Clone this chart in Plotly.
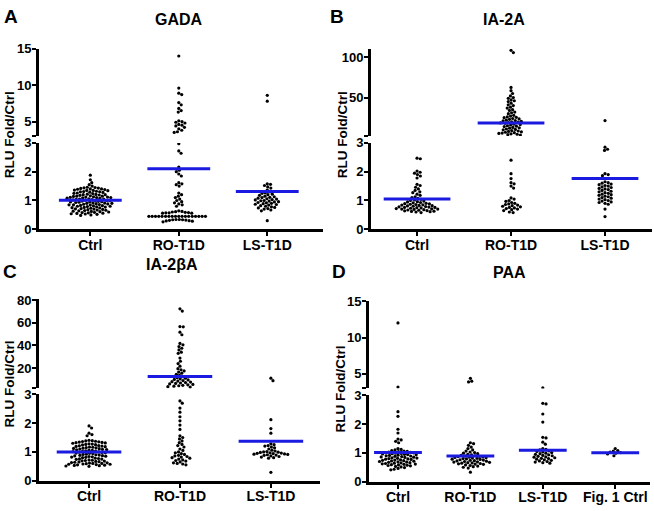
import math
import plotly.graph_objects as go

W, H = 654, 511

# ---------------- data ----------------
cats_abc = ["Ctrl", "RO-T1D", "LS-T1D"]
cats_d = ["Ctrl", "RO-T1D", "LS-T1D", "Fig. 1 Ctrl"]
titles = ["GADA", "IA-2A", "IA-2βA", "PAA"]
letters = ["A", "B", "C", "D"]

gada_ctrl = [1.88, 1.72, 1.62, 1.55, 1.50, 1.46, 1.45, 1.44, 1.43, 1.42, 1.40, 1.40, 1.39, 1.38, 1.36, 1.35,
             1.35, 1.34, 1.32, 1.31, 1.30, 1.30, 1.29, 1.28, 1.26, 1.25, 1.24, 1.22, 1.21, 1.20, 1.20, 1.19,
             1.18, 1.16, 1.15, 1.15, 1.14, 1.13, 1.12, 1.12, 1.11, 1.10, 1.10, 1.09, 1.08, 1.07, 1.06, 1.05,
             1.05, 1.04, 1.03, 1.02, 1.01, 1.00, 1.00, 0.99, 0.98, 0.97, 0.96, 0.95, 0.95, 0.94, 0.93, 0.92,
             0.91, 0.90, 0.90, 0.89, 0.88, 0.87, 0.86, 0.85, 0.85, 0.84, 0.83, 0.82, 0.81, 0.80, 0.80, 0.79,
             0.78, 0.77, 0.76, 0.75, 0.74, 0.73, 0.72, 0.71, 0.70, 0.69, 0.68, 0.67, 0.66, 0.65, 0.64, 0.63,
             0.62, 0.61, 0.60, 0.59, 0.58, 0.57, 0.56, 0.55, 0.54, 0.53, 0.52, 0.50, 0.48]
gada_ro = [14.0, 9.6, 8.9, 8.7, 7.6, 7.3, 6.8, 6.5, 6.3, 5.1, 5.0, 4.9, 4.8, 4.6, 4.5, 4.4, 4.2, 4.0, 3.8, 3.6,
           3.5, 2.97, 2.72, 2.64, 2.16, 2.05, 2.00, 1.92, 1.85, 1.62, 1.58, 1.55, 1.50, 1.26, 1.20, 1.15, 1.10,
           1.05, 1.00, 0.96, 0.92, 0.88, 0.85, 0.80, 0.64, 0.62, 0.61, 0.60, 0.59, 0.58, 0.57, 0.57, 0.56,
           0.56, 0.45, 0.45, 0.45, 0.45, 0.45, 0.45, 0.45, 0.45, 0.45, 0.45, 0.45, 0.45, 0.45, 0.45,
           0.45, 0.45, 0.45, 0.45, 0.34, 0.34, 0.33, 0.33, 0.32, 0.31, 0.30, 0.29, 0.28, 0.26]
gada_ls = [8.6, 7.8, 1.58, 1.56, 1.52, 1.47, 1.43, 1.36, 1.30, 1.27, 1.25, 1.22, 1.20, 1.18, 1.15, 1.13, 1.11,
           1.10, 1.08, 1.06, 1.05, 1.03, 1.02, 1.00, 0.99, 0.98, 0.96, 0.95, 0.93, 0.92, 0.90, 0.89, 0.87,
           0.86, 0.84, 0.82, 0.80, 0.78, 0.76, 0.74, 0.72, 0.70, 0.67, 0.64, 0.30]
gada_means = [1.01, 2.10, 1.31]

ia2_ctrl = [2.47, 2.45, 2.02, 1.98, 1.95, 1.90, 1.85, 1.78, 1.56, 1.52, 1.46, 1.40, 1.35, 1.30, 1.27, 1.22,
            1.18, 1.13, 1.10, 1.07, 1.04, 1.02, 1.00, 0.98, 0.96, 0.95, 0.93, 0.92, 0.90, 0.89, 0.88, 0.87,
            0.86, 0.85, 0.84, 0.83, 0.82, 0.81, 0.80, 0.79, 0.78, 0.77, 0.76, 0.76, 0.75, 0.74, 0.73, 0.72,
            0.71, 0.70, 0.70, 0.69, 0.68, 0.67, 0.66, 0.65, 0.64, 0.63, 0.62, 0.61, 0.60, 0.58]
ia2_ro = [108.5, 105.7, 62.6, 58.5, 55, 52, 50, 49, 47, 46, 45, 43, 41, 40, 38, 37, 35, 34, 32, 31, 30, 28, 27,
          26, 25.5, 25, 24, 23.5, 23, 22, 21.5, 21, 20.5, 20, 19.5, 19, 18.5, 18, 17, 16.5, 16, 15, 14.5, 14,
          13, 12.5, 12, 11, 10.5, 10, 9, 8.5, 8, 7.5, 7, 6.5, 6, 5.5, 5, 4.5, 4, 3.5,
          2.40, 1.93, 1.76, 1.62, 1.58, 1.50, 1.43, 1.09, 1.05, 1.00, 0.97, 0.93, 0.90, 0.88, 0.86, 0.84,
          0.82, 0.80, 0.78, 0.76, 0.74, 0.72, 0.70, 0.68, 0.65, 0.60, 0.58]
ia2_ls = [21.5, 2.85, 2.78, 2.74, 1.93, 1.90, 1.86, 1.65, 1.62, 1.60, 1.57, 1.55, 1.52, 1.50, 1.47, 1.45, 1.42,
          1.40, 1.38, 1.35, 1.32, 1.30, 1.27, 1.25, 1.22, 1.20, 1.18, 1.15, 1.13, 1.10, 1.08, 1.05, 1.03,
          1.00, 0.98, 0.95, 0.93, 0.90, 0.87, 0.70, 0.44]
ia2_means = [1.05, 18.3, 1.76]

ia2b_ctrl = [1.90, 1.83, 1.65, 1.60, 1.56, 1.40, 1.39, 1.38, 1.37, 1.36, 1.35, 1.34, 1.33, 1.32, 1.31, 1.30,
             1.28, 1.27, 1.26, 1.25, 1.24, 1.22, 1.21, 1.20, 1.19, 1.18, 1.17, 1.16, 1.15, 1.14, 1.13, 1.12,
             1.11, 1.10, 1.09, 1.08, 1.07, 1.06, 1.05, 1.04, 1.03, 1.02, 1.01, 1.00, 0.99, 0.98, 0.97, 0.96,
             0.95, 0.94, 0.92, 0.91, 0.90, 0.89, 0.88, 0.87, 0.86, 0.85, 0.84, 0.83, 0.82, 0.81, 0.80, 0.78,
             0.77, 0.76, 0.75, 0.74, 0.72, 0.71, 0.70, 0.69, 0.68, 0.67, 0.66, 0.65, 0.64, 0.63, 0.62, 0.61,
             0.60, 0.60, 0.59, 0.58, 0.57, 0.57, 0.56, 0.55, 0.54, 0.53, 0.52, 0.51, 0.50]
ia2b_ro = [72.3, 70.3, 56.6, 56.4, 51.7, 49.4, 41.7, 40.5, 39, 37.5, 36, 34, 33, 28.8, 26, 24, 21.7, 19.5, 18.5,
           17.5, 16.5, 15.5, 14.5, 13.5, 12.5, 11.5, 11, 10.5, 10, 9.5, 9, 8.5, 8, 7.6, 7.2, 6.8, 6.4, 6, 5.6,
           5.2, 4.8, 4.4, 4, 3.6, 3.2,
           2.77, 2.69, 2.52, 2.38, 2.22, 2.08, 1.93, 1.78, 1.56, 1.50, 1.45, 1.38, 1.32, 1.26, 1.22, 1.17,
           1.10, 1.05, 1.00, 0.97, 0.94, 0.91, 0.88, 0.86, 0.84, 0.82, 0.80, 0.78, 0.75, 0.72, 0.70, 0.68,
           0.65, 0.62, 0.60, 0.58, 0.55]
ia2b_ls = [11.1, 8.9, 2.12, 1.81, 1.65, 1.28, 1.25, 1.22, 1.20, 1.17, 1.14, 1.10, 1.06, 1.03, 1.01, 1.00, 0.99,
           0.98, 0.97, 0.96, 0.95, 0.94, 0.93, 0.92, 0.91, 0.90, 0.89, 0.88, 0.86, 0.84, 0.82, 0.80, 0.78, 0.29]
ia2b_means = [1.00, 12.5, 1.37]

paa_ctrl = [12.0, 3.2, 2.43, 2.27, 1.82, 1.69, 1.48, 1.45, 1.40, 1.35, 1.15, 1.12, 1.10, 1.08, 1.06, 1.05, 1.04,
            1.03, 1.02, 1.01, 1.00, 0.99, 0.98, 0.97, 0.96, 0.95, 0.94, 0.93, 0.92, 0.91, 0.90, 0.89, 0.88,
            0.87, 0.86, 0.85, 0.84, 0.83, 0.82, 0.81, 0.80, 0.79, 0.78, 0.77, 0.76, 0.75, 0.74, 0.73, 0.72,
            0.71, 0.70, 0.69, 0.68, 0.67, 0.66, 0.65, 0.64, 0.63, 0.62, 0.61, 0.60, 0.59, 0.58, 0.57, 0.56,
            0.55, 0.53, 0.51, 0.49, 0.46, 0.43, 0.41]
paa_ro = [4.4, 4.0, 3.9, 1.35, 1.32, 1.26, 1.20, 1.15, 1.10, 1.06, 1.03, 1.01, 0.99, 0.97, 0.95, 0.93, 0.91,
          0.90, 0.89, 0.88, 0.87, 0.86, 0.85, 0.84, 0.83, 0.82, 0.81, 0.80, 0.79, 0.78, 0.77, 0.76, 0.75,
          0.74, 0.73, 0.72, 0.71, 0.70, 0.69, 0.68, 0.67, 0.66, 0.65, 0.64, 0.63, 0.62, 0.61, 0.60, 0.58,
          0.56, 0.54, 0.52, 0.50, 0.47, 0.33]
paa_ls = [3.1, 2.72, 2.70, 2.35, 2.07, 1.54, 1.52, 1.37, 1.30, 1.15, 1.12, 1.10, 1.07, 1.05, 1.03, 1.01, 0.99,
          0.97, 0.95, 0.93, 0.91, 0.90, 0.88, 0.86, 0.85, 0.83, 0.81, 0.80, 0.78, 0.76, 0.74, 0.72, 0.70,
          0.68, 0.66, 0.64]
paa_fig1 = [1.15, 1.08, 1.06, 1.03, 1.01, 0.99, 0.96, 0.90]
paa_means = [1.01, 0.89, 1.09, 1.00]

lower_ticks = [0, 1, 2, 3]
upper_ticks = [[5, 10, 15], [50, 100], [20, 40, 60, 80], [5, 10, 15]]

# ---------------- layout geometry (pixels) ----------------
panels = [
    dict(groups=[gada_ctrl, gada_ro, gada_ls], means=gada_means, cats=cats_abc,
         x0=39, x1=323, xr=[-0.58, 2.63], low=(140, 229), up=(43, 133), ur=[3, 15],
         letter=(11, 10), title=(179, 13), ytitle=(9, 132)),
    dict(groups=[ia2_ctrl, ia2_ro, ia2_ls], means=ia2_means, cats=cats_abc,
         x0=371, x1=652, xr=[-0.49, 2.5], low=(140, 229), up=(43, 133), ur=[2.2, 110.5],
         letter=(337, 10), title=(504, 13), ytitle=(342, 132)),
    dict(groups=[ia2b_ctrl, ia2b_ro, ia2b_ls], means=ia2b_means, cats=cats_abc,
         x0=39, x1=320, xr=[-0.55, 2.54], low=(399, 488), up=(301, 393), ur=[2, 80.8],
         letter=(10, 272), title=(172, 265), ytitle=(10, 389)),
    dict(groups=[paa_ctrl, paa_ro, paa_ls, paa_fig1], means=paa_means, cats=cats_d,
         x0=369, x1=650, xr=[-0.4, 3.48], low=(400, 489), up=(303, 393), ur=[3, 15],
         letter=(339, 272), title=(509, 274), ytitle=(340, 393)),
]

LOW_MAX = 3.0
DIAM = 3.3


def swarm(ypix, diam):
    order = sorted(range(len(ypix)), key=lambda i: ypix[i])
    placed = []
    offs = [0.0] * len(ypix)
    for i in order:
        y = ypix[i]
        cands = [0.0]
        near = [(px_, py_) for (px_, py_) in placed if abs(py_ - y) < diam]
        for px_, py_ in near:
            dx = math.sqrt(max(diam * diam - (py_ - y) ** 2, 0.0))
            cands += [px_ + dx, px_ - dx]
        cands.sort(key=lambda c: (round(abs(c), 6), -c))
        chosen = 0.0
        for c in cands:
            if all((c - px_) ** 2 + (y - py_) ** 2 >= diam * diam - 1e-6 for px_, py_ in near):
                chosen = c
                break
        placed.append((chosen, y))
        offs[i] = chosen
    return offs


def pxx(x):
    return x / W


def pyy(y):
    return 1 - y / H


fig = go.Figure()
layout = dict(width=W, height=H, margin=dict(l=0, r=0, t=0, b=0), autosize=False,
              paper_bgcolor="white", plot_bgcolor="white", showlegend=False,
              font=dict(family="Liberation Sans, Arial", color="black"))
annotations = []
FONT_B = dict(family="Liberation Sans, Arial", color="black", weight="bold")
BLUE = "#1a1ae0"

for k, p in enumerate(panels):
    lo_i, up_i = 2 * k + 1, 2 * k + 2
    xl = "x" if lo_i == 1 else f"x{lo_i}"
    yl = "y" if lo_i == 1 else f"y{lo_i}"
    xu, yu = f"x{up_i}", f"y{up_i}"
    xdom = [pxx(p["x0"]), pxx(p["x1"])]
    xppu = (p["x1"] - p["x0"]) / (p["xr"][1] - p["xr"][0])
    low_ppu = (p["low"][1] - p["low"][0]) / LOW_MAX
    up_ppu = (p["up"][1] - p["up"][0]) / (p["ur"][1] - p["ur"][0])
    utv = [p["ur"][0]] + upper_ticks[k]
    utt = [""] + [str(t) for t in upper_ticks[k]]

    layout["xaxis" if lo_i == 1 else f"xaxis{lo_i}"] = dict(
        domain=xdom, anchor=yl, range=p["xr"], tickmode="array",
        tickvals=list(range(len(p["cats"]))), ticktext=p["cats"], showline=True, linewidth=3,
        linecolor="black", ticks="outside", ticklen=4, tickwidth=2, tickcolor="black",
        showgrid=False, zeroline=False, tickfont=dict(FONT_B, size=14), ticklabelstandoff=-3,
        fixedrange=True)
    layout[f"xaxis{up_i}"] = dict(domain=xdom, anchor=yu, range=p["xr"], visible=False,
                                  showgrid=False, zeroline=False)
    layout["yaxis" if lo_i == 1 else f"yaxis{lo_i}"] = dict(
        domain=[pyy(p["low"][1]), pyy(p["low"][0])], anchor=xl, range=[0, LOW_MAX],
        tickmode="array", tickvals=lower_ticks, showline=True, linewidth=3, linecolor="black",
        ticks="outside", ticklen=4, tickwidth=2, tickcolor="black", showgrid=False, zeroline=False,
        tickfont=dict(FONT_B, size=13), ticklabelstandoff=-2)
    layout[f"yaxis{up_i}"] = dict(
        domain=[pyy(p["up"][1]), pyy(p["up"][0])], anchor=xu, range=p["ur"],
        tickmode="array", tickvals=utv, ticktext=utt, showline=True, linewidth=3,
        linecolor="black", ticks="outside", ticklen=4, tickwidth=2, tickcolor="black",
        showgrid=False, zeroline=False, tickfont=dict(FONT_B, size=13), ticklabelstandoff=-2)

    for g, vals in enumerate(p["groups"]):
        lowv = [v for v in vals if v <= LOW_MAX]
        upv = [v for v in vals if v > LOW_MAX]
        for seg, ax_x, ax_y, ppu in ((lowv, xl, yl, low_ppu), (upv, xu, yu, up_ppu)):
            if not seg:
                continue
            offs = swarm([-v * ppu for v in seg], DIAM)
            fig.add_trace(go.Scatter(
                x=[g + o / xppu for o in offs], y=seg, xaxis=ax_x, yaxis=ax_y, mode="markers",
                marker=dict(size=3.2, color="black", line=dict(width=0)), hoverinfo="y"))
        m = p["means"][g]
        half = 0.355 if k < 3 else 0.33
        on_up = m > LOW_MAX
        fig.add_trace(go.Scatter(
            x=[g - half, g + half], y=[m, m], xaxis=xu if on_up else xl, yaxis=yu if on_up else yl,
            mode="lines", line=dict(color=BLUE, width=3), hoverinfo="skip"))

    annotations.append(dict(text=letters[k], x=pxx(p["letter"][0]), y=pyy(p["letter"][1]),
                            xref="paper", yref="paper", showarrow=False, xanchor="center",
                            yanchor="middle", font=dict(FONT_B, size=19)))
    annotations.append(dict(text=titles[k], x=pxx(p["title"][0]), y=pyy(p["title"][1]),
                            xref="paper", yref="paper", showarrow=False, xanchor="center",
                            yanchor="middle", font=dict(FONT_B, size=16)))
    annotations.append(dict(text="RLU Fold/Ctrl", x=pxx(p["ytitle"][0]), y=pyy(p["ytitle"][1]),
                            xref="paper", yref="paper", showarrow=False, xanchor="center",
                            yanchor="middle", textangle=-90, font=dict(FONT_B, size=13.5)))

layout["annotations"] = annotations
fig.update_layout(**layout)
fig.write_html("out.html", config={"displayModeBar": False},
               post_script="document.body.style.margin='0';document.body.style.overflow='hidden';")
